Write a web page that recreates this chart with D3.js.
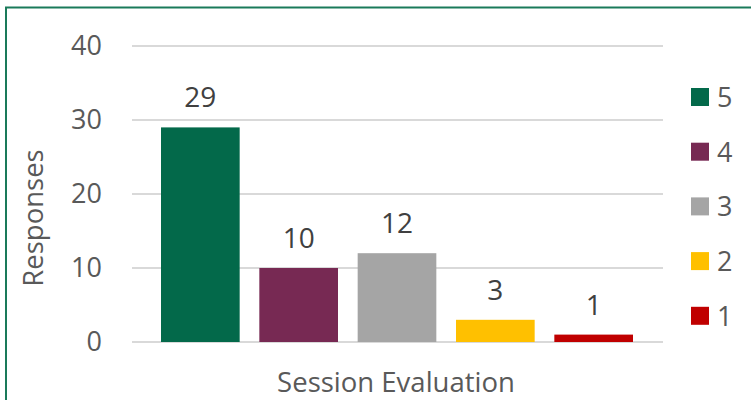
<!DOCTYPE html>
<html>
<head>
<meta charset="utf-8" />
<title></title>
<script src="https://cdn.jsdelivr.net/npm/d3@7"></script>
<style>
    body { margin: 0; overflow: hidden; background: #fff; }
    text { font-family: "Open Sans", "Liberation Sans", sans-serif; fill: #595959; }
</style>
</head>
<body>
<div id="chart"></div>
<script>
    // data
    var series = ["5", "4", "3", "2", "1"];
    var values = [29, 10, 12, 3, 1];
    var colors = ["#03694A", "#772953", "#A5A5A5", "#FFC000", "#C00000"];
    var yTicks = [0, 10, 20, 30, 40];

    var W = 751, H = 400;
    var svg = d3.select("#chart").append("svg").attr("width", W).attr("height", H);

    // outer border (runs off right and bottom)
    svg.append("rect")
        .attr("x", 6).attr("y", 7.5)
        .attr("width", 760).attr("height", 420)
        .attr("fill", "none").attr("stroke", "#1A7A5A").attr("stroke-width", 2);

    var plotL = 132, plotR = 663, plotT = 46, plotB = 342;

    var y = d3.scaleLinear().domain([0, 40]).range([plotB, plotT]);
    var x = d3.scaleBand().domain(series).range([plotL + 29, plotR - 30]).paddingInner(0.2);

    // gridlines
    svg.append("g").selectAll("line").data(yTicks).enter().append("line")
        .attr("x1", plotL).attr("x2", plotR)
        .attr("y1", function (d) { return y(d); })
        .attr("y2", function (d) { return y(d); })
        .attr("stroke", "#D9D9D9").attr("stroke-width", 2);

    // y axis labels
    var yAxis = d3.axisLeft(y).tickValues(yTicks).tickSize(0).tickPadding(0);
    var ga = svg.append("g").attr("transform", "translate(102,0)").call(yAxis);
    ga.select(".domain").remove();
    ga.selectAll("text").attr("fill", null)
        .style("font-size", "27px")
        .style("font-family", "'Open Sans', sans-serif");

    // bars
    svg.append("g").selectAll("rect").data(values).enter().append("rect")
        .attr("x", function (d, i) { return x(series[i]); })
        .attr("y", function (d) { return y(d); })
        .attr("width", x.bandwidth())
        .attr("height", function (d) { return y(0) - y(d); })
        .attr("fill", function (d, i) { return colors[i]; });

    // value labels
    svg.append("g").selectAll("text").data(values).enter().append("text")
        .attr("x", function (d, i) { return x(series[i]) + x.bandwidth() / 2; })
        .attr("y", function (d) { return y(d) - 20; })
        .attr("text-anchor", "middle")
        .style("font-size", "28px")
        .style("fill", "#404040")
        .text(function (d) { return d; });

    // axis titles
    svg.append("text")
        .attr("transform", "translate(43,218) rotate(-90)")
        .attr("text-anchor", "middle")
        .style("font-size", "27.5px")
        .text("Responses");
    svg.append("text")
        .attr("x", 396).attr("y", 392)
        .attr("text-anchor", "middle")
        .style("font-size", "27.5px")
        .text("Session Evaluation");

    // legend
    var lg = svg.append("g").selectAll("g").data(series).enter().append("g")
        .attr("transform", function (d, i) { return "translate(691," + (97 + i * 54.7) + ")"; });
    lg.append("rect").attr("x", 0).attr("y", -9).attr("width", 18).attr("height", 18)
        .attr("fill", function (d, i) { return colors[i]; });
    lg.append("text").attr("x", 26).attr("y", 10).style("font-size", "27px")
        .text(function (d) { return d; });
</script>
</body>
</html>
